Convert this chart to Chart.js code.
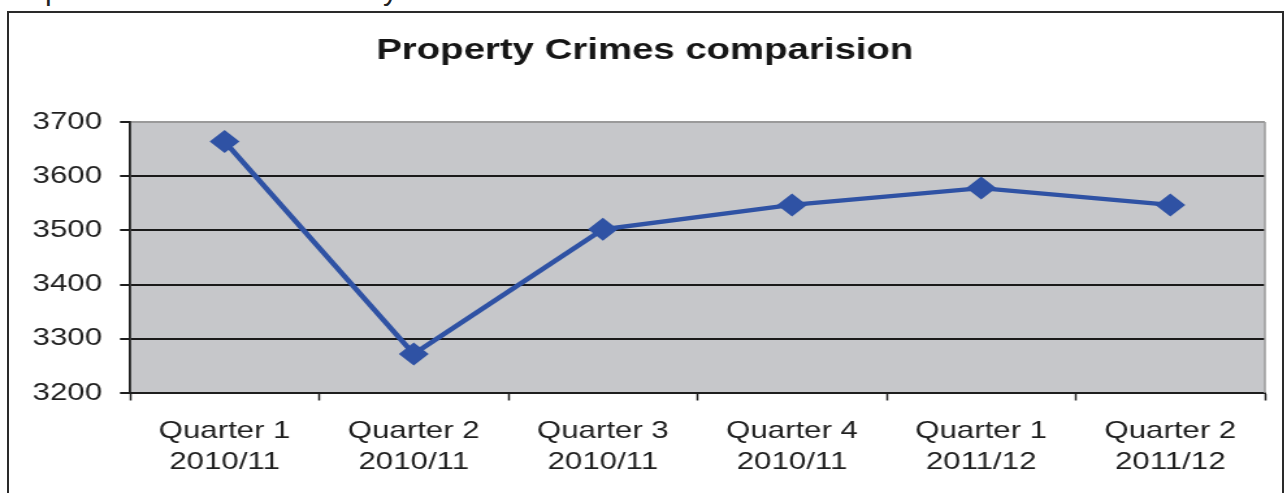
<!DOCTYPE html>
<html>
<head>
<meta charset="utf-8">
<script src="https://cdn.jsdelivr.net/npm/chart.js@4/dist/chart.umd.min.js"></script>
<style>
  html, body { margin: 0; padding: 0; background: #fff; overflow: hidden; }
  body { width: 1287px; height: 493px; position: relative; }
  .frame { position: absolute; left: 7px; top: 11px; width: 1273px; height: 520px; border: 2px solid #2a2a2a; }
  .wrap { position: absolute; left: 0; top: 0; width: 990px; height: 493px; transform: scaleX(1.3); transform-origin: 0 0; }
  .cut { position: absolute; top: -25px; font: 30px/30px "Liberation Sans", Arial, sans-serif; color: #222; }
</style>
</head>
<body>
<span class="cut" style="left:45px">p</span>
<span class="cut" style="left:383px">y</span>
<div class="frame"></div>
<div class="wrap"><canvas id="crimeChart"></canvas></div>
<script>
const categories = [
  ["Quarter 1", "2010/11"],
  ["Quarter 2", "2010/11"],
  ["Quarter 3", "2010/11"],
  ["Quarter 4", "2010/11"],
  ["Quarter 1", "2011/12"],
  ["Quarter 2", "2011/12"],
];
const propertyCrimes = [3664, 3272, 3502, 3547, 3578, 3547];
const yMin = 3200, yMax = 3700, yStep = 100;
const chartTitle = "Property Crimes comparision";

(function() {
  const font = "'Liberation Sans', Arial, sans-serif";
  const ink = '#1e1e1e';
  const blue = '#2f52a4';

  // grey plot area with a grey right edge, like the Excel original
  const plotArea = {
    id: 'plotArea',
    beforeDraw(chart) {
      const { ctx, chartArea: a } = chart;
      ctx.save();
      ctx.fillStyle = '#c6c7ca';
      ctx.fillRect(a.left, a.top, a.right - a.left, a.bottom - a.top);
      ctx.restore();
    },
    beforeDatasetsDraw(chart) {
      const { ctx, chartArea: a } = chart;
      ctx.save();
      ctx.strokeStyle = '#9a9a9a';
      ctx.lineWidth = 1.5;
      ctx.beginPath();
      ctx.moveTo(a.right, a.top);
      ctx.lineTo(a.right, a.bottom);
      ctx.stroke();
      ctx.restore();
    }
  };

  new Chart(document.getElementById('crimeChart'), {
    type: 'line',
    data: {
      labels: categories,
      datasets: [{
        data: propertyCrimes,
        borderColor: blue,
        backgroundColor: blue,
        borderWidth: 4.4,
        pointStyle: 'rectRot',
        pointRadius: 11.5,
        pointHoverRadius: 11.5,
        pointBackgroundColor: blue,
        pointBorderColor: blue,
        pointBorderWidth: 0,
        tension: 0,
      }]
    },
    options: {
      responsive: true, maintainAspectRatio: false,
      animation: false,
      layout: { padding: { left: 19, right: 17, top: 0, bottom: 0 } },
      plugins: {
        legend: { display: false },
        tooltip: { enabled: false },
        title: {
          display: true,
          text: chartTitle,
          color: '#161616',
          font: { family: font, size: 29.5, weight: 'bold', lineHeight: 1.2 },
          padding: { top: 33, bottom: 53.6 }
        }
      },
      scales: {
        x: {
          offset: true,
          afterFit: s => { s.height = 100; },
          grid: { offset: true, drawOnChartArea: false, drawTicks: true, tickLength: 7.5, tickColor: ink, tickWidth: 1.5 },
          border: { display: true, color: ink, width: 2 },
          ticks: { color: ink, padding: 15.4, maxRotation: 0, autoSkip: false, font: { family: font, size: 24, lineHeight: 1.3 } }
        },
        y: {
          min: yMin, max: yMax,
          afterFit: s => { s.width = 81; },
          grid: {
            color: c => (c.tick && c.tick.value === yMax) ? '#9a9a9a' : '#1a1a1a',
            lineWidth: 2,
            drawTicks: true, tickLength: 7.7, tickColor: ink, tickWidth: 2
          },
          border: { display: true, color: ink, width: 1.8 },
          ticks: {
            stepSize: yStep, color: ink, padding: 13.8,
            font: { family: font, size: 24 },
            callback: v => String(v)
          }
        }
      }
    },
    plugins: [plotArea]
  });
})();
</script>
</body>
</html>
